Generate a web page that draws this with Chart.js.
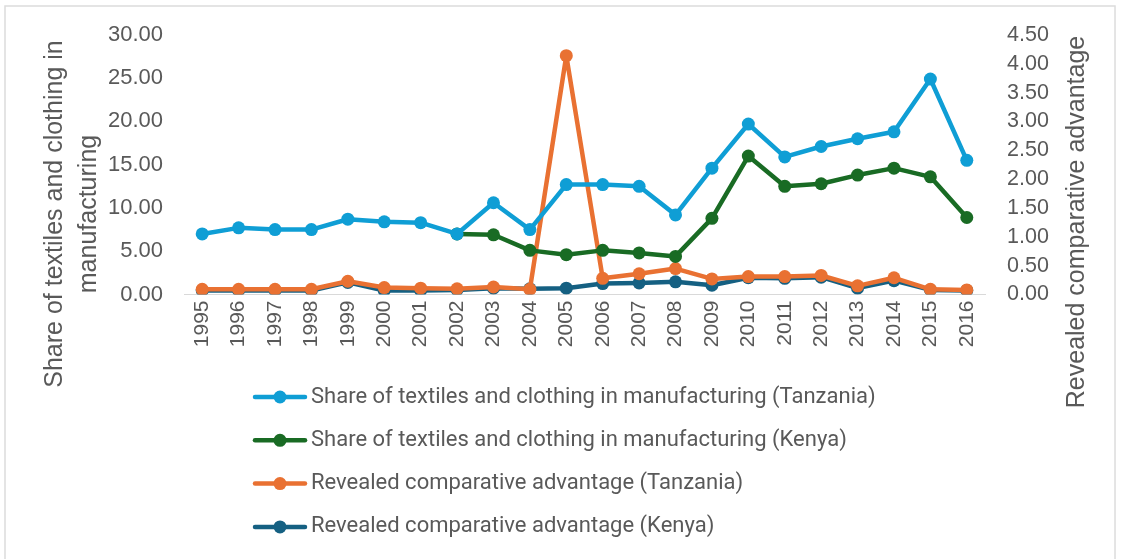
<!DOCTYPE html>
<html>
<head>
<meta charset="utf-8">
<script src="https://cdn.jsdelivr.net/npm/chart.js@4.4.1/dist/chart.umd.min.js"></script>
<style>
  html, body { margin: 0; padding: 0; background: #fff; }
  #wrap { width: 1122px; height: 559px; }
</style>
</head>
<body>
<div id="wrap"><canvas id="textileChart" width="1122" height="559"></canvas></div>
<script>
// years on the x axis
const years = ['1995', '1996', '1997', '1998', '1999', '2000', '2001', '2002', '2003', '2004', '2005',
    '2006', '2007', '2008', '2009', '2010', '2011', '2012', '2013', '2014', '2015', '2016'];

// share of textiles and clothing in manufacturing (left axis, %)
const shareTanzania = [7.0, 7.7, 7.5, 7.5, 8.7, 8.4, 8.3, 7.0, 10.6, 7.5, 12.7,
    12.7, 12.5, 9.2, 14.6, 19.7, 15.9, 17.1, 18.0, 18.8, 24.9, 15.5];
const shareKenya = [null, null, null, null, null, null, null, 7.0, 6.9, 5.1, 4.6,
    5.1, 4.8, 4.4, 8.8, 16.0, 12.5, 12.8, 13.8, 14.6, 13.6, 8.9];

// revealed comparative advantage (right axis)
const rcaTanzania = [0.09, 0.09, 0.09, 0.09, 0.23, 0.12, 0.11, 0.10, 0.13, 0.09, 4.14,
    0.28, 0.36, 0.45, 0.27, 0.31, 0.31, 0.33, 0.15, 0.29, 0.09, 0.08];
const rcaKenya = [0.07, 0.07, 0.07, 0.07, 0.21, 0.07, 0.07, 0.08, 0.11, 0.10, 0.11,
    0.19, 0.20, 0.22, 0.16, 0.29, 0.28, 0.30, 0.11, 0.24, 0.08, 0.07];

const leftTitle = ['Share of textiles and clothing in', 'manufacturing'];
const rightTitle = 'Revealed comparative advantage';

const textColor = '#595959';

function lineSet(label, data, color, axis) {
    return {
        label: label,
        data: data,
        borderColor: color,
        backgroundColor: color,
        borderWidth: 4.5,
        borderJoinStyle: 'round',
        borderCapStyle: 'round',
        pointRadius: 6.5,
        pointHoverRadius: 6.5,
        pointBorderWidth: 0,
        tension: 0,
        yAxisID: axis,
    };
}

// frame, axis titles and legend drawn on the canvas
const extrasPlugin = {
    id: 'extras',
    beforeDraw(chart) {
        const ctx = chart.ctx;
        ctx.save();
        ctx.strokeStyle = '#dcdcdc';
        ctx.lineWidth = 1.5;
        ctx.strokeRect(5, 6, 1110, 570);
        ctx.restore();
    },
    afterDraw(chart) {
        const ctx = chart.ctx;
        ctx.save();
        ctx.fillStyle = textColor;
        ctx.textAlign = 'center';
        ctx.textBaseline = 'middle';
        ctx.font = '25px "Liberation Sans", Arial, sans-serif';

        // left axis title (two lines)
        ctx.save();
        ctx.translate(55, 214);
        ctx.rotate(-Math.PI / 2);
        ctx.fillText(leftTitle[0], 0, 0);
        ctx.fillText(leftTitle[1], 0, 34);
        ctx.restore();

        // right axis title
        ctx.save();
        ctx.translate(1077, 222);
        ctx.rotate(-Math.PI / 2);
        ctx.fillText(rightTitle, 0, 0);
        ctx.restore();

        // legend
        ctx.textAlign = 'left';
        ctx.font = '22px Roboto, "Liberation Sans", sans-serif';
        chart.data.datasets.forEach((ds, i) => {
            const y = 397 + i * 43.3;
            ctx.strokeStyle = ds.borderColor;
            ctx.lineWidth = 4.5;
            ctx.lineCap = 'round';
            ctx.beginPath();
            ctx.moveTo(255, y);
            ctx.lineTo(305, y);
            ctx.stroke();
            ctx.fillStyle = ds.borderColor;
            ctx.beginPath();
            ctx.arc(280, y, 6.5, 0, Math.PI * 2);
            ctx.fill();
            ctx.fillStyle = textColor;
            ctx.fillText(ds.label, 311, y);
        });
        ctx.restore();
    },
};

const ctx = document.getElementById('textileChart').getContext('2d');
const textileChart = new Chart(ctx, {
    type: 'line',
    data: {
        labels: years,
        datasets: [
            lineSet('Share of textiles and clothing in manufacturing (Tanzania)', shareTanzania, '#0F9ED5', 'y'),
            lineSet('Share of textiles and clothing in manufacturing (Kenya)', shareKenya, '#196B24', 'y'),
            lineSet('Revealed comparative advantage (Tanzania)', rcaTanzania, '#E97132', 'y1'),
            lineSet('Revealed comparative advantage (Kenya)', rcaKenya, '#156082', 'y1'),
        ],
    },
    options: {
        responsive: false,
        animation: false,
        layout: { padding: { top: 32, left: 0, right: 0, bottom: 0 } },
        plugins: {
            legend: { display: false },
            tooltip: { enabled: false },
        },
        scales: {
            x: {
                offset: true,
                grid: { display: false, drawTicks: false },
                border: { display: true, color: '#d9d9d9', width: 1 },
                ticks: {
                    color: textColor,
                    font: { family: '"Liberation Sans", Arial, sans-serif', size: 21 },
                    minRotation: 90,
                    maxRotation: 90,
                    autoSkip: false,
                    padding: 6,
                },
                afterFit(scale) { scale.height = 264.5; },
            },
            y: {
                position: 'left',
                min: 0,
                max: 30,
                grid: { display: false, drawTicks: false },
                border: { display: false },
                ticks: {
                    stepSize: 5,
                    color: textColor,
                    font: { family: '"Liberation Sans", Arial, sans-serif', size: 22 },
                    padding: 21,
                    callback: v => v.toFixed(2),
                },
                afterFit(scale) { scale.width = 184; },
            },
            y1: {
                position: 'right',
                min: 0,
                max: 4.5,
                grid: { display: false, drawTicks: false },
                border: { display: false },
                ticks: {
                    stepSize: 0.5,
                    color: textColor,
                    font: { family: '"Liberation Sans", Arial, sans-serif', size: 21.5 },
                    padding: 22,
                    callback: v => v.toFixed(2),
                },
                afterFit(scale) { scale.width = 137; },
            },
        },
    },
    plugins: [extrasPlugin],
});
</script>
</body>
</html>
